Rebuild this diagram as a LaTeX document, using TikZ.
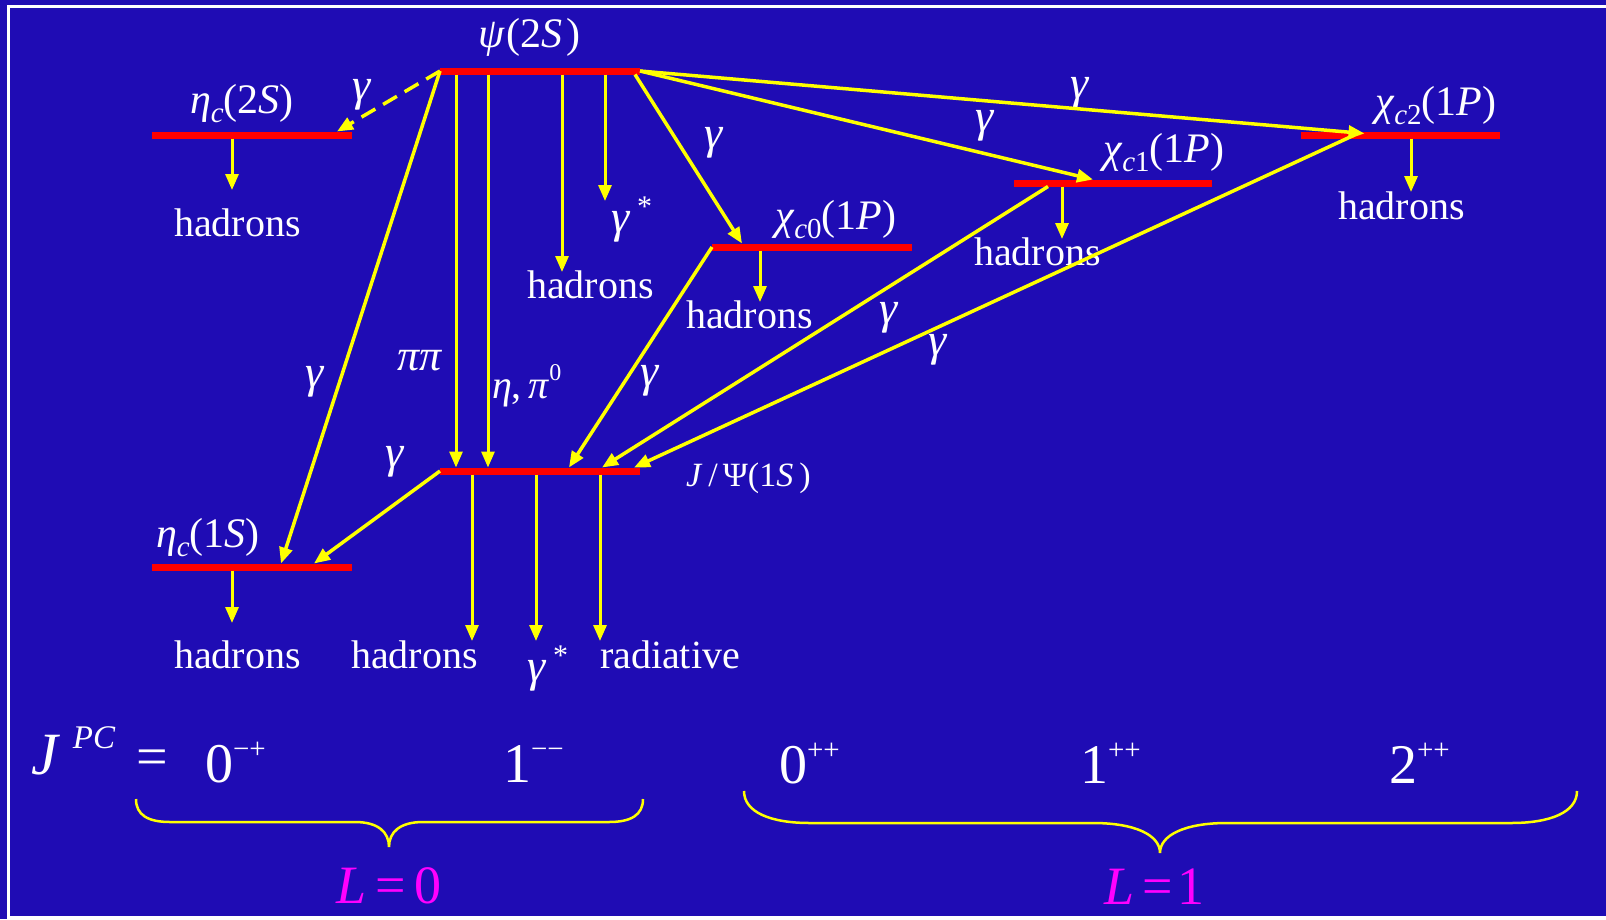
\documentclass[tikz,border=0pt]{standalone}
\usepackage{fontspec}
\setmainfont{Liberation Serif}
\usetikzlibrary{arrows.meta}
\definecolor{bgblue}{RGB}{31,12,180}
\definecolor{barred}{RGB}{255,0,0}
\definecolor{ylw}{RGB}{255,255,0}
\definecolor{mag}{RGB}{255,0,255}
\newcommand\ti[1]{\textit{#1}}
\newcommand\lowr[1]{\raisebox{-9pt}{\fontsize{29}{29}\selectfont #1}}
\newcommand\upst{\hspace{7pt}\raisebox{16pt}{\fontsize{30}{30}\selectfont *}}
\newcommand\supr[1]{\raisebox{24pt}{\fontsize{29}{29}\selectfont #1}}
\begin{document}
\begin{tikzpicture}[x=1pt,y=-1pt,
  lvl/.style={rectangle, fill=barred, draw=none, inner sep=0pt, outer sep=0pt, minimum width=200pt, minimum height=7pt},
  lbl/.style={text=white, inner sep=0pt, outer sep=0pt, font=\fontsize{40}{44}\selectfont, anchor=base west},
  slbl/.style={lbl, font=\fontsize{42}{46}\selectfont},
  glbl/.style={text=white, inner sep=0pt, outer sep=0pt, font=\fontsize{46}{50}\selectfont\itshape},
  bigl/.style={lbl, font=\fontsize{56}{60}\selectfont},
  arr/.style={draw=ylw, line width=3.5pt, -{Triangle[length=16pt,width=13pt]}},
  varr/.style={arr, line width=3pt},
  bracestyle/.style={draw=ylw, line width=2.5pt}
]
\useasboundingbox (0,0) rectangle (1606,919);
\fill[bgblue] (0,0) rectangle (1606,919);
\draw[white, line width=3pt] (1610,6) -- (8,6) -- (8,917.5) -- (1610,917.5);

% levels
\node[lvl] (psi) at (540,71) {};
\node[lvl] (eta2) at (252,135) {};
\node[lvl] (chi0) at (812,247) {};
\node[lvl, minimum width=198pt] (chi1) at (1113,183) {};
\node[lvl, minimum width=199pt] (chi2) at (1400,135) {};
\node[lvl] (jpsi) at (540,471) {};
\node[lvl] (eta1) at (252,567) {};

% state labels
\node[slbl] (Lpsi) at (478,47) {\ti{ψ}\hspace{2pt}(2\ti{S}\hspace{4pt})};
\node[slbl] (Leta2) at (190,113) {\ti{η}\lowr{\ti{c}}(2\ti{S})};
\node[slbl] (Lchi0) at (775,229) {\ti{χ}\lowr{\ti{c}0}(1\ti{P})};
\node[slbl] (Lchi1) at (1103,162) {\ti{χ}\lowr{\ti{c}1}(1\ti{P})};
\node[slbl] (Lchi2) at (1375,115) {\ti{χ}\lowr{\ti{c}2}(1\ti{P})};
\node[lbl, font=\fontsize{34}{38}\selectfont] (Ljpsi) at (686,486) {\ti{J}\hspace{6pt}/\hspace{5pt}Ψ(1\ti{S}\hspace{6pt})};
\node[slbl] (Leta1) at (156,547) {\ti{η}\lowr{\ti{c}}(1\ti{S})};

% decay products
\node[lbl] (h1) at (174,236) {hadrons};
\node[lbl] (h2) at (527,298) {hadrons};
\node[lbl] (h3) at (686,328) {hadrons};
\node[lbl] (h4) at (974,265) {hadrons};
\node[lbl] (h5) at (1338,219) {hadrons};
\node[lbl] (h6) at (174,668) {hadrons};
\node[lbl] (h7) at (351,668) {hadrons};
\node[lbl] (rad) at (600,668) {radiative};
\node[lbl, font=\fontsize{46}{50}\selectfont] (gs1) at (611,232) {\ti{γ}\upst};
\node[lbl, font=\fontsize{46}{50}\selectfont] (gs2) at (527,681) {\ti{γ}\upst};

% transition labels
\node[glbl] (g1) at (362,95) {γ};
\node[glbl] (g2) at (315,382) {γ};
\node[lbl, font=\fontsize{44}{48}\selectfont] (pp) at (397,370) {\ti{ππ}};
\node[lbl] (ep) at (492,398) {\ti{η},\,\ti{π}\raisebox{18pt}{\fontsize{24}{24}\selectfont 0}};
\node[glbl] (g3) at (714,143) {γ};
\node[glbl] (g4) at (650,381) {γ};
\node[glbl] (g5) at (395,462) {γ};
\node[glbl] (g6) at (985,126) {γ};
\node[glbl] (g7) at (1080,93) {γ};
\node[glbl] (g8) at (889,318) {γ};
\node[glbl] (g9) at (938,350) {γ};

% tips of decay arrows
\coordinate (t1) at (232,190);
\coordinate (t2) at (562,272);
\coordinate (t3) at (605,201);
\coordinate (t4) at (760,302);
\coordinate (t5) at (1062,239);
\coordinate (t6) at (1411,192);
\coordinate (t7) at (232,623);
\coordinate (t8) at (472,641);
\coordinate (t9) at (536,641);
\coordinate (t10) at (600,641);

% decay arrows
\draw[varr] (eta2.south -| t1) -- (t1);
\draw[varr] (psi.south -| t2) -- (t2);
\draw[varr] (psi.south -| t3) -- (t3);
\draw[varr] (chi0.south -| t4) -- (t4);
\draw[varr] (chi1.south -| t5) -- (t5);
\draw[varr] (chi2.south -| t6) -- (t6);
\draw[varr] (eta1.south -| t7) -- (t7);
\draw[varr] (jpsi.south -| t8) -- (t8);
\draw[varr] (jpsi.south -| t9) -- (t9);
\draw[varr] (jpsi.south -| t10) -- (t10);

% transitions
\draw[arr, dash pattern=on 16pt off 9pt] (psi.west) -- ([xshift=-15pt]eta2.north east);
\draw[arr] (psi.west) -- ([xshift=29pt]eta1.north);
\draw[varr] ([xshift=16pt]psi.south west) -- ([xshift=16pt]jpsi.north west);
\draw[varr] ([xshift=48pt]psi.south west) -- ([xshift=48pt]jpsi.north west);
\draw[arr] ([xshift=-5pt]psi.south east) -- ([xshift=30pt]chi0.north west);
\draw[arr] (psi.east) -- ([xshift=79pt]chi1.north west);
\draw[arr] (psi.east) -- ([xshift=64pt,yshift=1.5pt]chi2.west);
\draw[arr] (chi0.west) -- ([xshift=129pt]jpsi.north west);
\draw[arr] ([xshift=34pt]chi1.south west) -- ([xshift=162pt]jpsi.north west);
\draw[arr] ([xshift=54pt]chi2.west) -- ([xshift=-6pt]jpsi.north east);
\draw[arr] (jpsi.west) -- ([xshift=62pt]eta1.north);

% quantum numbers
\node[bigl] (jpc) at (31,774) {{\fontsize{60}{64}\selectfont\ti{J}}\hspace{13pt}\raisebox{26pt}{\fontsize{33}{33}\selectfont\ti{PC}}};
\node[bigl] (eq) at (136,775) {=};
\node[bigl] (q1) at (205,782) {0\supr{−+}};
\node[bigl] (q2) at (503,782) {1\supr{−−}};
\node[bigl] (q3) at (779,783) {0\supr{++}};
\node[bigl] (q4) at (1080,783) {1\supr{++}};
\node[bigl] (q5) at (1389,783) {2\supr{++}};

% braces
\draw[bracestyle] (136,799) .. controls (136,815) and (148,822) .. (170,822) -- (355,822)
  .. controls (378,822) and (389,832) .. (389,847)
  .. controls (389,832) and (400,822) .. (423,822) -- (609,822)
  .. controls (631,822) and (643,815) .. (643,799);
\draw[bracestyle] (744,791) .. controls (744,812) and (770,823) .. (810,823) -- (1093,823)
  .. controls (1135,823) and (1160,835) .. (1160,853)
  .. controls (1160,835) and (1185,823) .. (1227,823) -- (1511,823)
  .. controls (1551,823) and (1577,812) .. (1577,791);

\node[lbl, text=mag, font=\fontsize{54}{58}\selectfont] (L0) at (336,903) {\ti{L}\hspace{9pt}=\hspace{9pt}0};
\node[lbl, text=mag, font=\fontsize{54}{58}\selectfont] (L1) at (1104,904) {\ti{L}\hspace{8pt}=\hspace{5pt}1};
\end{tikzpicture}
\end{document}
